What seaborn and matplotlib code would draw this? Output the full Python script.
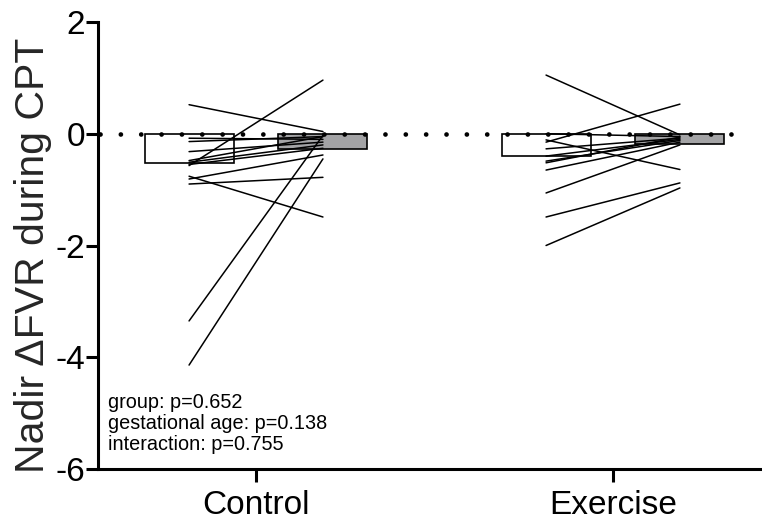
import numpy as np
import pandas as pd
import matplotlib
matplotlib.use("Agg")
import matplotlib.pyplot as plt
import seaborn as sns

groups = ["Control", "Exercise"]
times = ["Early", "Late"]
bar_values = {"Control": [-0.52, -0.27], "Exercise": [-0.40, -0.18]}

control_pre = [0.52, -0.08, -0.14, -0.32, -0.48, -0.51, -0.55, -0.57, -0.76, -0.81, -0.90, -3.35, -4.14]
control_post = [0.04, -0.10, -0.05, -0.15, -0.05, -0.20, -0.26, 0.96, -1.49, -0.38, -0.78, -0.03, -0.45]
exercise_pre = [1.05, 0.00, -0.11, -0.15, -0.27, -0.40, -0.49, -0.52, -0.65, -1.06, -1.49, -2.00]
exercise_post = [-0.02, -0.05, -0.64, 0.53, -0.08, -0.10, -0.12, -0.06, -0.15, -0.20, -0.88, -0.97]

stats_lines = ["group: p=0.652", "gestational age: p=0.138", "interaction: p=0.755"]
ylabel = "Nadir \u0394FVR during CPT"

sns.set_theme(style="ticks")
plt.rcParams["font.family"] = ["Liberation Sans", "DejaVu Sans"]

fig = plt.figure(figsize=(7.62, 5.29), dpi=100)
ax = fig.add_axes([98/762, 1-469/529, 1-98/762, (469-22)/529])

bar_df = pd.DataFrame([(g, t, bar_values[g][i]) for g in groups for i, t in enumerate(times)],
                      columns=["group", "time", "value"])
sns.barplot(data=bar_df, x="group", y="value", hue="time", order=groups, hue_order=times,
            palette=["white", "#a2a2a6"], edgecolor="black", linewidth=1.2,
            width=0.75, gap=0.336, errorbar=None, legend=False, ax=ax, zorder=1)

off = 0.1875
rows = []
sid = 0
for gi, (pre, post) in enumerate([(control_pre, control_post), (exercise_pre, exercise_post)]):
    for a, b in zip(pre, post):
        rows.append((sid, gi - off, a))
        rows.append((sid, gi + off, b))
        sid += 1
line_df = pd.DataFrame(rows, columns=["subject", "xpos", "value"])
sns.lineplot(data=line_df, x="xpos", y="value", units="subject", estimator=None,
             color="black", linewidth=1.1, ax=ax, zorder=3, legend=False)

ax.axhline(0, xmin=0.003, xmax=0.967, color="black", lw=3.4,
           ls=(0, (0.01, 4.3)), dash_capstyle="round", zorder=4)

ax.set_xlim(-0.4426, 1.4174)
ax.set_ylim(-6, 2)
ax.set_yticks([2, 0, -2, -4, -6])
ax.set_yticklabels(["2", "0", "-2", "-4", "-6"])
ax.set_xticks([0, 1])
ax.set_xticklabels(groups)
ax.set_xlabel("")
ax.set_ylabel(ylabel, fontsize=29.5)
ax.yaxis.set_label_coords(-0.069, 0.479)
ax.tick_params(axis="both", labelsize=24, width=2.2, length=9, color="black", labelcolor="black")
ax.tick_params(axis="x", pad=6)
ax.tick_params(axis="y", pad=0.5)
for s in ["top", "right"]:
    ax.spines[s].set_visible(False)
for s in ["left", "bottom"]:
    ax.spines[s].set_linewidth(2.2)
    ax.spines[s].set_color("black")
ax.set_facecolor("white")

ax.text(0.015, 0.170, "\n".join(stats_lines), transform=ax.transAxes, ha="left", va="top",
        fontsize=14.3, linespacing=1.12, color="black")

fig.savefig("out.png", dpi=100, facecolor="white")
